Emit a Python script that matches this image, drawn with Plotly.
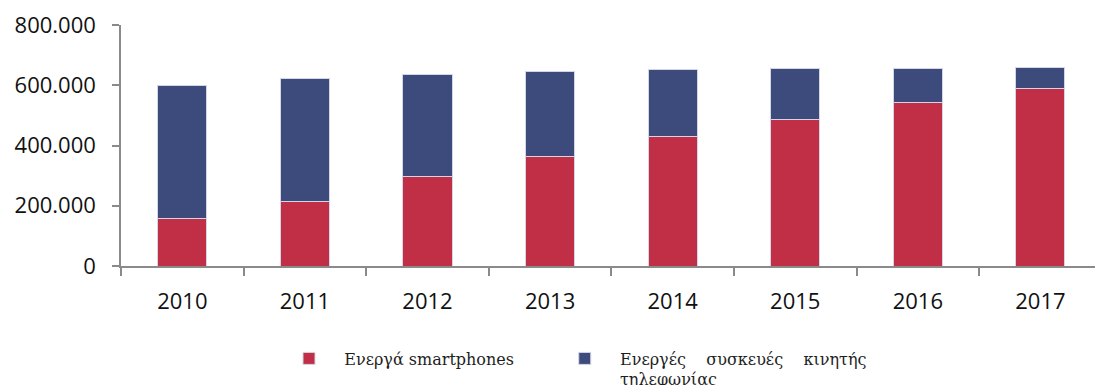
import plotly.graph_objects as go

# Active devices per year (values in units)
years = ["2010", "2011", "2012", "2013", "2014", "2015", "2016", "2017"]
smartphones = [157000, 214000, 296000, 362000, 430000, 487000, 543000, 590000]
other_devices = [443000, 407000, 340000, 282000, 222000, 169000, 114000, 69000]

y_ticks = [0, 200000, 400000, 600000, 800000]

NB = "\u00a0"
name_smart = NB * 3 + "Ενεργά smartphones" + NB * 9
name_other = (NB * 3 + "Ενεργές" + NB * 4 + "συσκευές" + NB * 4 + "κινητής"
              + "<br>" + NB * 3 + "τηλεφωνίας")

RED = "#c12f47"
BLUE = "#3d4a7c"
EDGE = "#d3d6e6"
AXIS = "#8a8a8a"

fig = go.Figure()
fig.add_trace(go.Bar(
    x=years, y=smartphones, name=name_smart,
    marker=dict(color=RED, line=dict(color=EDGE, width=1)),
))
fig.add_trace(go.Bar(
    x=years, y=other_devices, name=name_other,
    marker=dict(color=BLUE, line=dict(color=EDGE, width=1)),
))

fig.update_layout(
    width=1095, height=385,
    margin=dict(l=121, r=0, t=25, b=119, pad=0),
    barmode="stack",
    bargap=0.6,
    separators=",.",
    plot_bgcolor="white",
    paper_bgcolor="white",
    font=dict(family="Open Sans", size=22, color="#111111"),
    showlegend=True,
    legend=dict(
        orientation="h",
        xref="container", yref="container",
        x=289 / 1095, xanchor="left",
        y=(385 - 341.5) / 385, yanchor="top",
        font=dict(family="DejaVu Serif", size=16, color="#1e1e1e"),
        valign="top",
        traceorder="normal",
        bgcolor="rgba(0,0,0,0)",
    ),
)

fig.update_xaxes(
    type="category",
    range=[-0.5, 7.445],
    showline=True, linecolor=AXIS, linewidth=1.5,
    ticks="outside", tickson="boundaries", ticklen=8, tickwidth=1.5, tickcolor=AXIS,
    showgrid=False, zeroline=False,
    tickfont=dict(family="Open Sans", size=22, color="#111111"),
    ticklabelstandoff=15,
)
fig.update_yaxes(
    range=[0, 800000],
    tickvals=y_ticks,
    tickformat=",d",
    showline=True, linecolor=AXIS, linewidth=1.5,
    ticks="outside", ticklen=7, tickwidth=1.5, tickcolor=AXIS,
    showgrid=False, zeroline=False,
    tickfont=dict(family="Open Sans", size=22, color="#111111"),
    ticklabelstandoff=12,
)

fig.write_html("out.html")
